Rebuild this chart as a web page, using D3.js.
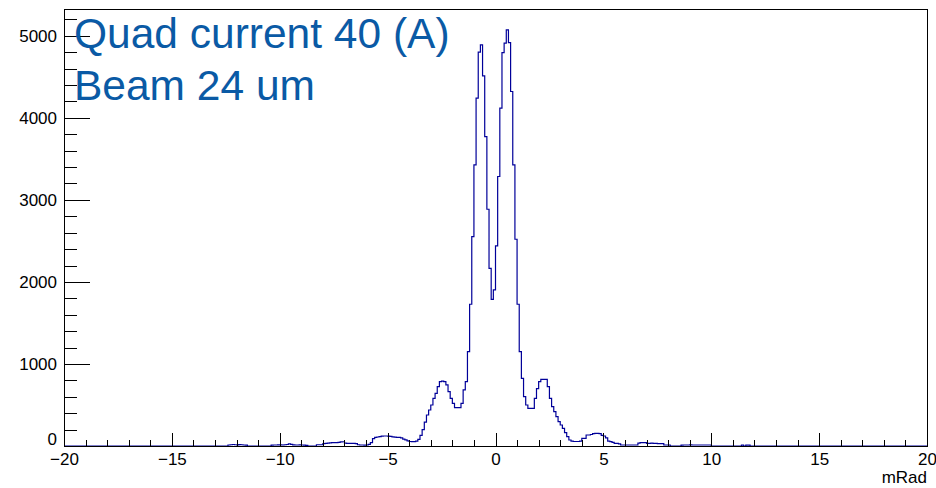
<!DOCTYPE html>
<html>
  <head>
    <meta charset="utf-8">
    <title>Quad current 40 (A)</title>
    <style type="text/css">
      body { margin: 0; background: #fff; }
      text { font-family: "Liberation Sans", Arial, Helvetica, sans-serif; }
      path.hist { fill: none; stroke: #000099; stroke-width: 1.2; }
      .axis path, .axis line { stroke: #000; stroke-width: 1; shape-rendering: crispEdges; }
      .axis text { font-size: 17px; fill: #000; }
    </style>
  </head>
  <body>
    <div id="main"></div>
    <script src="https://d3js.org/d3.v7.min.js"></script>
    <script>
    // Histogram definition: 400 bins from -20 to 20 mRad
    var histLow = -20, histHigh = 20, binWidth = 0.1;

    // Bin contents (bins not listed are empty)
    var leftTailStart = -12.5;
    var leftTail = [0,
      12, 15, 18, 15, 14, 16, 15, 12, 10,
      0, 0, 0, 0, 0, 0, 0, 0, 0, 0, 0,
      10, 12, 12, 14, 13, 12, 15, 18, 25, 20, 14, 12, 12, 13, 12, 10, 8,
      0, 0, 0, 0,
      15, 15, 15];

    var coreStart = -8.0;
    var core = [
      30, 33, 35, 38, 40, 40, 42, 45, 50, 52,
      35, 33, 33, 32, 33, 30,
      15, 12, 12, 10, 12,
      20, 40, 90, 106, 110, 115, 120, 122, 122, 120,
      118, 112, 108, 106, 104, 100, 85, 75, 62, 55,
      53, 53, 60, 80, 130, 200, 290, 378, 439, 500,
      581, 642, 724, 785, 790, 785, 744, 663, 581, 520,
      467, 467, 467, 520, 683, 785, 1150, 1728, 2553, 3427,
      4240, 4800, 4890, 4512, 3772, 2886, 2166, 1788, 1902, 2439,
      3285, 4118, 4796, 4910, 5073, 4918, 4321, 3427, 2520, 1728,
      1150, 825, 602, 500, 459, 459, 459, 581, 700, 785,
      813, 813, 813, 724, 581, 480, 419, 358, 297, 256,
      215, 163, 114, 73, 60, 55, 55, 55, 60, 93,
      93, 134, 134, 140, 150, 155, 155, 150, 130, 122,
      100, 60, 53, 45, 33, 33, 25, 12, 12, 12,
      12, 12, 12, 12, 12, 35, 40, 42, 40, 33,
      33, 35, 33, 32, 30, 30, 28, 12, 12];

    var rightTailStart = 8.0;
    var rightTail = [12,
      0, 0, 0, 0, 0,
      10, 12, 12, 12, 14, 12, 12, 12, 12, 12, 12, 12, 12, 12,
      0, 0, 0, 0, 0, 0, 0, 0, 0, 0, 0, 0, 0, 0,
      10, 0, 10, 10, 0, 0];

    var xMajorTicks = [-20, -15, -10, -5, 0, 5, 10, 15, 20];
    var yMajorTicks = [0, 1000, 2000, 3000, 4000, 5000];
    var xTitle = "mRad";
    var labelLines = ["Quad current 40 (A)", "Beam 24 um"];

    document.addEventListener("DOMContentLoaded", init);
    function init() {
      var margin = {top: 9, right: 9, bottom: 42, left: 64},
          width = 936 - margin.left - margin.right,
          height = 488 - margin.top - margin.bottom;

      // fill the 400 bins
      var nBins = Math.round((histHigh - histLow) / binWidth);
      var counts = new Array(nBins).fill(0);
      [[leftTailStart, leftTail], [coreStart, core], [rightTailStart, rightTail]].forEach(function(seg) {
        var first = Math.round((seg[0] - histLow) / binWidth);
        seg[1].forEach(function(v, i) { counts[first + i] = v; });
      });
      var bins = counts.map(function(v, i) {
        return {x0: histLow + i * binWidth, x1: histLow + (i + 1) * binWidth, value: v};
      });

      var x = d3.scaleLinear().domain([histLow, histHigh]).range([0, width]);
      var y = d3.scaleLinear().domain([0, d3.max(counts) * 1.05]).range([height, 0]);

      var svg = d3.select("#main").append("svg")
          .attr("width", 936)
          .attr("height", 488)
        .append("g")
          .attr("transform", "translate(" + margin.left + "," + margin.top + ")");

      // step outline of the histogram
      var pts = [[histLow, 0]];
      bins.forEach(function(b) { pts.push([b.x0, b.value]); pts.push([b.x1, b.value]); });
      pts.push([histHigh, 0]);
      var line = d3.line()
          .x(function(d) { return x(d[0]); })
          .y(function(d) { return y(d[1]); });
      svg.append("path")
          .attr("class", "hist")
          .attr("d", line(pts));

      // frame
      svg.append("rect")
          .attr("width", width)
          .attr("height", height)
          .attr("fill", "none")
          .attr("stroke", "#000")
          .attr("stroke-width", 1)
          .attr("shape-rendering", "crispEdges");

      // X axis: minor then major ticks (pointing up into the frame)
      svg.append("g")
          .attr("class", "axis")
          .attr("transform", "translate(0," + height + ")")
          .call(d3.axisBottom(x).tickValues(d3.range(histLow, histHigh + 0.5, 1))
              .tickSize(-6.5).tickSizeOuter(0).tickFormat(""));
      var xAxis = svg.append("g")
          .attr("class", "axis")
          .attr("transform", "translate(0," + height + ")")
          .call(d3.axisBottom(x).tickValues(xMajorTicks).tickSize(-13).tickSizeOuter(0));
      xAxis.selectAll("text").attr("y", 19).attr("dy", 0);

      // Y axis
      svg.append("g")
          .attr("class", "axis")
          .call(d3.axisLeft(y).tickValues(d3.range(0, y.domain()[1], 200))
              .tickSize(-13).tickSizeOuter(0).tickFormat(""));
      var yAxis = svg.append("g")
          .attr("class", "axis")
          .call(d3.axisLeft(y).tickValues(yMajorTicks).tickSize(-26).tickSizeOuter(0)
              .tickPadding(7).tickFormat(d3.format("d")));
      // ROOT lifts the zero label off the x axis
      yAxis.selectAll("text").filter(function(d) { return d === 0; })
          .attr("dy", "-0.1em").attr("y", 0);

      // axis title
      svg.append("text")
          .attr("x", width)
          .attr("y", height + 37)
          .attr("text-anchor", "end")
          .style("font-size", "17px")
          .text(xTitle);

      // annotation
      svg.selectAll("text.note")
          .data(labelLines)
          .enter().append("text")
          .attr("class", "note")
          .attr("x", 10)
          .attr("y", function(d, i) { return 39 + i * 52; })
          .attr("fill", "#0a5aa5")
          .style("font-size", "42.5px")
          .text(function(d) { return d; });
    }
    </script>
  </body>
</html>
